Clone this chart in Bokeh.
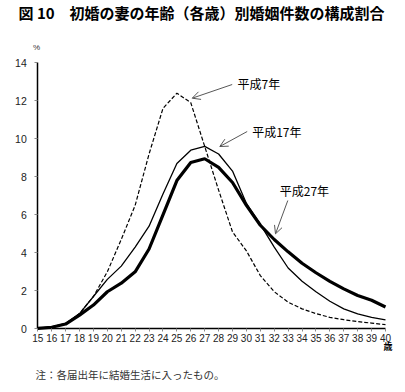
from bokeh.plotting import figure
from bokeh.models import Label, Arrow, OpenHead, FixedTicker, Range1d, LinearAxis
from bokeh.embed import file_html
from bokeh.resources import INLINE

ages = list(range(15, 41))
h7 = [0.02, 0.08, 0.25, 0.8, 1.7, 3.0, 4.7, 6.5, 9.2, 11.6, 12.4, 11.9, 9.6,
      7.3, 5.1, 4.1, 2.8, 1.95, 1.4, 1.05, 0.8, 0.6, 0.48, 0.38, 0.3, 0.22]
h17 = [0.03, 0.1, 0.28, 0.8, 1.7, 2.6, 3.3, 4.3, 5.4, 7.1, 8.7, 9.4, 9.6,
       9.2, 8.3, 6.6, 5.5, 4.3, 3.2, 2.5, 1.95, 1.45, 1.05, 0.78, 0.6, 0.47]
h27 = [0.02, 0.08, 0.25, 0.72, 1.25, 1.95, 2.4, 3.0, 4.2, 6.0, 7.8, 8.75, 8.95,
       8.5, 7.7, 6.5, 5.45, 4.7, 4.05, 3.45, 2.95, 2.5, 2.1, 1.75, 1.5, 1.15]
y_ticks = [0, 2, 4, 6, 8, 10, 12, 14]
title_text = "図 10　初婚の妻の年齢（各歳）別婚姻件数の構成割合"
note_text = "注：各届出年に結婚生活に入ったもの。"
series_labels = ["平成7年", "平成17年", "平成27年"]

JP = "Noto Sans CJK JP"
TICKF = "Liberation Sans"

W, H = 397, 384
# pixel geometry of the plotting area (axis origin and extents)
X0PX, X1PX = 37.3, 385.0      # x=15 and x=40
Y0PX, Y1PX = 328.3, 62.3      # y=0 and y=14
SX = (X1PX - X0PX) / 25.0
SY = (Y0PX - Y1PX) / 14.0


def px2x(px):
    return 15 + (px - X0PX) / SX


def px2y(py):
    return (Y0PX - py) / SY


p = figure(width=W, height=H, output_backend="svg", toolbar_location=None,
           x_range=Range1d(px2x(0), px2x(W)), y_range=Range1d(px2y(H), px2y(0)),
           x_axis_location=None, y_axis_location=None,
           min_border=0, min_border_left=0, min_border_right=0,
           min_border_top=0, min_border_bottom=0)
p.outline_line_color = None
p.xgrid.visible = False
p.ygrid.visible = False
p.background_fill_color = "white"

p.line(ages, h7, line_color="black", line_width=1.2, line_dash="4 2")
p.line(ages, h17, line_color="black", line_width=1.3)
p.line(ages, h27, line_color="black", line_width=3.2)

xaxis = LinearAxis(fixed_location=0, bounds=(15, 40),
                   ticker=FixedTicker(ticks=ages))
yaxis = LinearAxis(fixed_location=15, bounds=(0, 14),
                   ticker=FixedTicker(ticks=y_ticks))
for ax in (xaxis, yaxis):
    ax.axis_line_color = "black"
    ax.axis_line_width = 1.5
    ax.major_tick_line_color = "#888888"
    ax.major_tick_line_width = 1
    ax.major_tick_in = 0
    ax.major_tick_out = 3
    ax.minor_tick_line_color = None
    ax.major_label_text_font = TICKF
    ax.major_label_text_color = "#222222"
xaxis.major_label_text_font_size = "10px"
xaxis.major_label_standoff = 2
yaxis.major_label_text_font_size = "10.5px"
yaxis.major_label_standoff = 8
p.add_layout(xaxis, "below")
p.add_layout(yaxis, "left")


def lab(x, y, t, size, bold=False, align="left", color="black", font=JP):
    p.add_layout(Label(x=x, y=y, text=t, text_font=font, text_font_size=size,
                       text_font_style="bold" if bold else "normal",
                       text_align=align, text_baseline="middle",
                       text_color=color))


lab(px2x(18), px2y(12), title_text, "15px", bold=True)
lab(px2x(36), px2y(47), "%", "8px", align="center", color="#333333", font=TICKF)
lab(px2x(383), px2y(345.5), "歳", "9px", bold=True)
lab(px2x(35), px2y(374), note_text, "10.5px", color="#333333")

lab(px2x(237), px2y(83), series_labels[0], "12px")
lab(px2x(251.7), px2y(130.7), series_labels[1], "12px")
lab(px2x(279.3), px2y(190), series_labels[2], "12px")

arrows = [((231.7, 84), (191.7, 97.7)),
          ((246.7, 131), (219.3, 146)),
          ((287.3, 200), (275, 233.3))]
for (xs, ys), (xe, ye) in arrows:
    p.add_layout(Arrow(x_start=px2x(xs), y_start=px2y(ys),
                       x_end=px2x(xe), y_end=px2y(ye),
                       line_color="#444444", line_width=0.9,
                       end=OpenHead(size=8, line_color="#444444", line_width=0.9)))

open("out.html", "w").write(file_html(p, INLINE))
